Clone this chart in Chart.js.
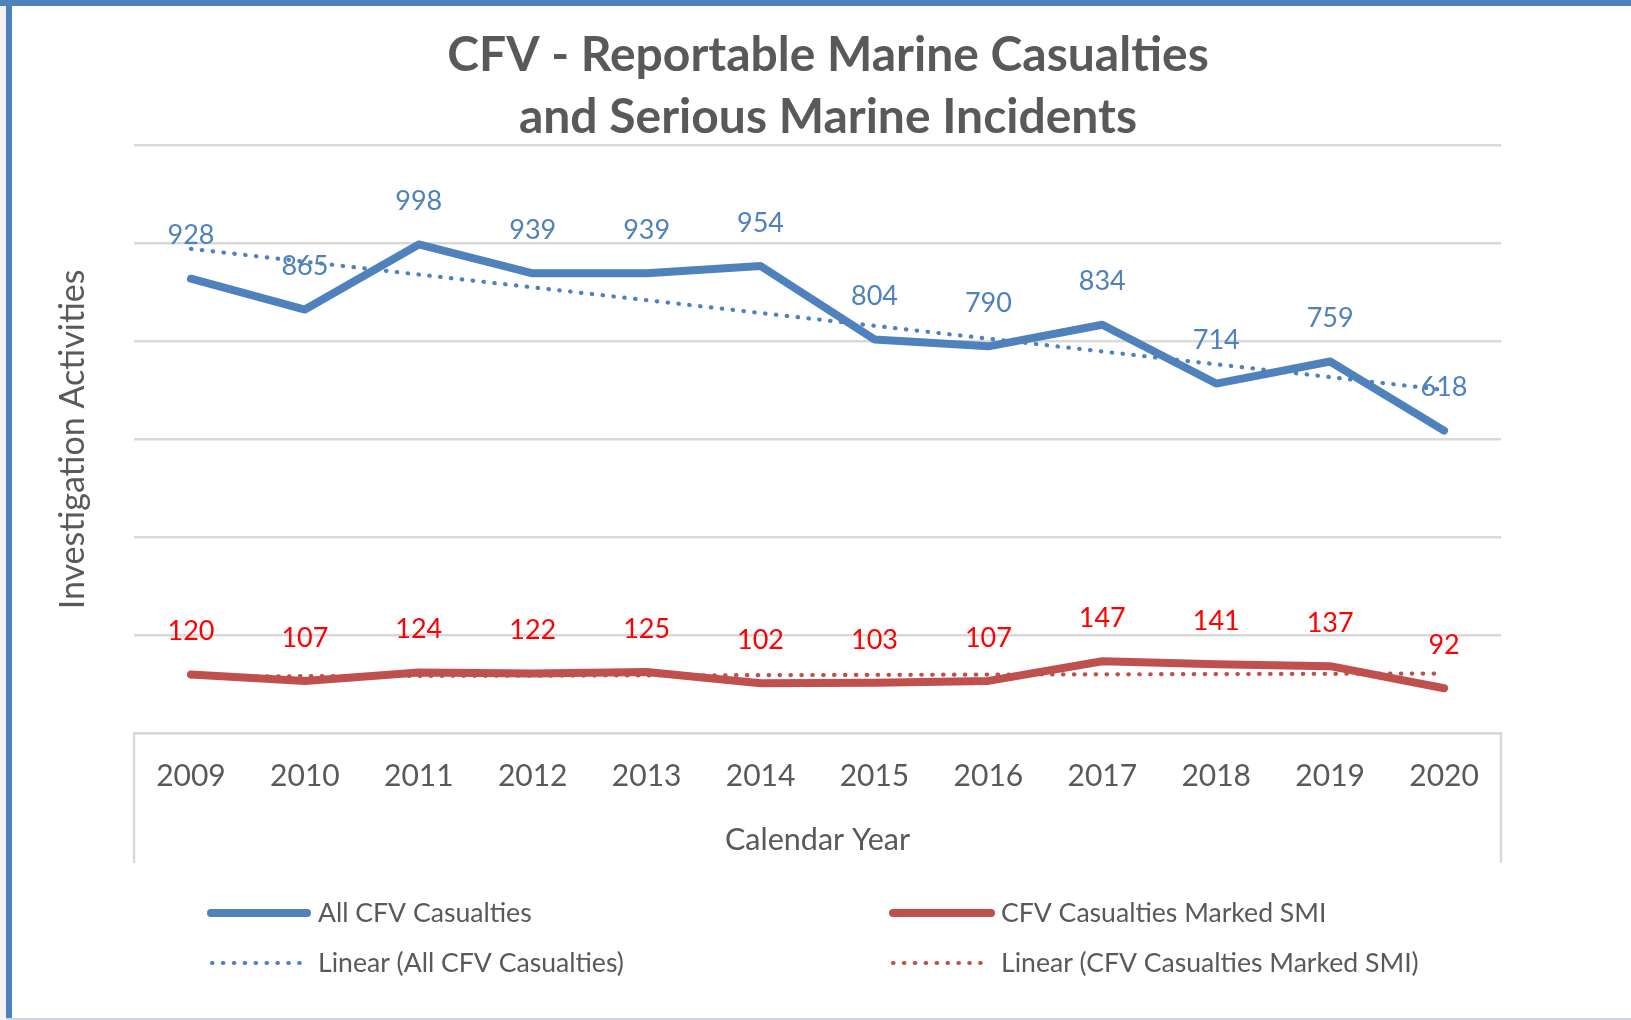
<!DOCTYPE html>
<html>
<head>
<meta charset="utf-8">
<script src="https://cdn.jsdelivr.net/npm/chart.js@4.4.1/dist/chart.umd.min.js"></script>
<style>
  html, body { margin: 0; padding: 0; background: #ffffff; overflow: hidden; }
  #wrap { position: absolute; left: 0; top: 0; width: 1631px; height: 1020px; }
</style>
</head>
<body>
<div id="wrap"><canvas id="c" width="1631" height="1020"></canvas></div>
<script>
// ---------- DATA ----------
const years = ['2009', '2010', '2011', '2012', '2013', '2014', '2015', '2016', '2017', '2018', '2019', '2020'];
const allCasualties = [928, 865, 998, 939, 939, 954, 804, 790, 834, 714, 759, 618];
const smiCasualties = [120, 107, 124, 122, 125, 102, 103, 107, 147, 141, 137, 92];
// linear trend line end values (at 2009 and 2020)
const trendYears = ['2009', '2020'];
const trendAll = [989, 701];
const trendSmi = [116, 122];
const yMin = 0;
const yMax = 1200;
const yStep = 200;
const titleLines = ['CFV - Reportable Marine Casualties', 'and Serious Marine Incidents'];
const yAxisTitle = 'Investigation Activities';
const xAxisTitle = 'Calendar Year';
const seriesNames = ['All CFV Casualties', 'CFV Casualties Marked SMI',
                     'Linear (All CFV Casualties)', 'Linear (CFV Casualties Marked SMI)'];

// ---------- STYLE ----------
const BLUE = '#4F81BD';
const RED = '#C0504D';
const BLUE_LABEL = '#4F81BD';
const RED_LABEL = '#FF0000';
const TEXT = '#595959';
const GRID = '#D9D9D9';
const FONT = 'Lato';
const DOT_W = 4.2;
const DOT_DASH = [0.5, 10.4];

const toPts = (xs, ys) => xs.map((x, i) => ({ x: x, y: ys[i] }));

const framePlugin = {
  id: 'frame',
  beforeDraw(chart) {
    const ctx = chart.ctx;
    ctx.save();
    ctx.fillStyle = '#ffffff';
    ctx.fillRect(0, 0, chart.width, chart.height);
    ctx.fillStyle = '#f3f3f3';
    ctx.fillRect(0, 0, 6, chart.height);
    ctx.fillStyle = BLUE;
    ctx.fillRect(0, 0, chart.width, 6);
    ctx.fillRect(6, 0, 6, chart.height);
    ctx.fillStyle = '#c8d6ea';
    ctx.fillRect(6, chart.height - 2, chart.width, 2);
    ctx.restore();
  }
};

const titlePlugin = {
  id: 'titleText',
  afterDraw(chart) {
    const ctx = chart.ctx;
    ctx.save();
    ctx.fillStyle = TEXT;
    ctx.font = 'bold 48px ' + FONT;
    ctx.textAlign = 'center';
    ctx.textBaseline = 'middle';
    ctx.fillText(titleLines[0], 828, 56);
    ctx.fillText(titleLines[1], 828, 117.5);
    ctx.restore();
  }
};

const axisBoxPlugin = {
  id: 'axisBox',
  afterDraw(chart) {
    const a = chart.chartArea;
    const ctx = chart.ctx;
    ctx.save();
    ctx.strokeStyle = GRID;
    ctx.lineWidth = 2.5;
    ctx.beginPath();
    ctx.moveTo(a.left, a.bottom);
    ctx.lineTo(a.left, 863);
    ctx.moveTo(a.right, a.bottom);
    ctx.lineTo(a.right, 863);
    ctx.stroke();
    ctx.restore();
  }
};

const labelPlugin = {
  id: 'valueLabels',
  afterDatasetsDraw(chart) {
    const ctx = chart.ctx;
    ctx.save();
    ctx.font = '27px ' + FONT;
    ctx.textAlign = 'center';
    ctx.textBaseline = 'middle';
    chart.data.datasets.forEach((ds, di) => {
      if (!ds.labelColor) return;
      const meta = chart.getDatasetMeta(di);
      ctx.fillStyle = ds.labelColor;
      meta.data.forEach((pt, i) => {
        ctx.fillText(String(ds.data[i]), pt.x, pt.y - 43);
      });
    });
    ctx.restore();
  }
};

const legendPlugin = {
  id: 'gridLegend',
  afterDraw(chart) {
    const ctx = chart.ctx;
    const items = [
      { name: seriesNames[0], color: BLUE, dotted: false, x0: 211, x1: 307, tx: 318, y: 913 },
      { name: seriesNames[1], color: RED, dotted: false, x0: 893, x1: 991, tx: 1001, y: 913 },
      { name: seriesNames[2], color: BLUE, dotted: true, x0: 212, x1: 302, tx: 318, y: 963 },
      { name: seriesNames[3], color: RED, dotted: true, x0: 893, x1: 984, tx: 1001, y: 963 }
    ];
    ctx.save();
    items.forEach(it => {
      ctx.strokeStyle = it.color;
      ctx.lineCap = 'round';
      if (it.dotted) {
        ctx.lineWidth = DOT_W;
        ctx.setLineDash(DOT_DASH);
      } else {
        ctx.lineWidth = 8;
        ctx.setLineDash([]);
      }
      ctx.beginPath();
      ctx.moveTo(it.x0, it.y);
      ctx.lineTo(it.x1, it.y);
      ctx.stroke();
      ctx.fillStyle = TEXT;
      ctx.font = '26.6px ' + FONT;
      ctx.textAlign = 'left';
      ctx.textBaseline = 'middle';
      ctx.fillText(it.name, it.tx, it.y);
    });
    ctx.restore();
  }
};

new Chart(document.getElementById('c'), {
  type: 'line',
  data: {
    labels: years,
    datasets: [
      {
        label: seriesNames[0], data: allCasualties, borderColor: BLUE, backgroundColor: BLUE,
        borderWidth: 8, pointRadius: 0, tension: 0, borderCapStyle: 'round', borderJoinStyle: 'round',
        labelColor: BLUE_LABEL, order: 2
      },
      {
        label: seriesNames[1], data: smiCasualties, borderColor: RED, backgroundColor: RED,
        borderWidth: 8, pointRadius: 0, tension: 0, borderCapStyle: 'round', borderJoinStyle: 'round',
        labelColor: RED_LABEL, order: 2
      },
      {
        label: seriesNames[2], data: toPts(trendYears, trendAll), borderColor: BLUE,
        borderWidth: DOT_W, borderDash: DOT_DASH, borderCapStyle: 'round', pointRadius: 0, order: 1
      },
      {
        label: seriesNames[3], data: toPts(trendYears, trendSmi), borderColor: RED,
        borderWidth: DOT_W, borderDash: DOT_DASH, borderCapStyle: 'round', pointRadius: 0, order: 1
      }
    ]
  },
  options: {
    responsive: false,
    animation: false,
    devicePixelRatio: 1,
    layout: { padding: { top: 145.5, right: 130, left: 0, bottom: 0 } },
    plugins: {
      legend: { display: false },
      title: { display: false },
      tooltip: { enabled: false }
    },
    scales: {
      x: {
        type: 'category',
        offset: true,
        grid: { display: false },
        border: { display: true, color: GRID, width: 2.5 },
        ticks: { color: TEXT, font: { family: FONT, size: 30 }, padding: 17.4, maxRotation: 0 },
        title: {
          display: true, text: xAxisTitle, color: TEXT,
          font: { family: FONT, size: 30.5 }, padding: { top: 0, bottom: 161.2 }
        },
        afterFit(scale) { scale.height = 286.7; }
      },
      y: {
        min: yMin, max: yMax,
        ticks: { display: false, stepSize: yStep },
        grid: { color: GRID, lineWidth: 2.5, drawTicks: false },
        border: { display: false },
        title: {
          display: true, text: yAxisTitle, color: TEXT,
          font: { family: FONT, size: 34 }, padding: { top: 52.4, bottom: 0 }
        },
        afterFit(scale) { scale.width = 134; }
      }
    }
  },
  plugins: [framePlugin, titlePlugin, axisBoxPlugin, labelPlugin, legendPlugin]
});
</script>
</body>
</html>
